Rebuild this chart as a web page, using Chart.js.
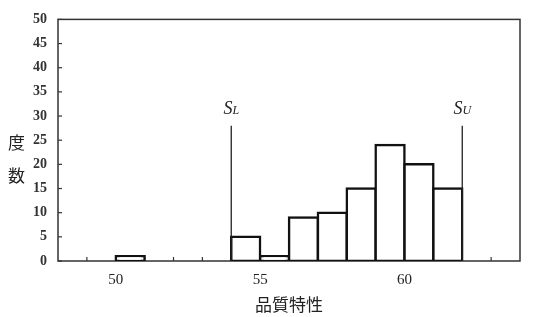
<!DOCTYPE html>
<html><head><meta charset="utf-8">
<script src="https://cdn.jsdelivr.net/npm/chart.js@4"></script>
<style>html,body{margin:0;padding:0;background:#fff}#wrap{width:534px;height:317px}</style>
</head><body><div id="wrap"><canvas id="c"></canvas></div>
<script>
// Data
const binStarts = [48,49,50,51,52,53,54,55,56,57,58,59,60,61,62,63];
const counts    = [null,null,1,null,null,null,5,1,9,10,15,24,20,15,null,null];
const xLabelsShown = [50,55,60];
const specLower = 54, specUpper = 62, specTop = 28;
const specLabels = [['S','L'],['S','U']];
const yTitle = ['度','数'];
const xTitle = '品質特性';

const deco = {
  id:'deco',
  beforeDatasetsDraw(chart){
    const {ctx, chartArea:a, scales:{x,y}} = chart;
    ctx.save();
    ctx.strokeStyle='#333'; ctx.lineWidth=1.5;
    ctx.strokeRect(a.left, a.top, a.right-a.left, a.bottom-a.top);
    ctx.lineWidth=1.2;
    y.ticks.forEach(t=>{const py=y.getPixelForValue(t.value);ctx.beginPath();ctx.moveTo(a.left,py);ctx.lineTo(a.left+4,py);ctx.stroke();});
    x.ticks.forEach(t=>{if(t.value<=x.min||t.value>=x.max)return;const px=x.getPixelForValue(t.value);ctx.beginPath();ctx.moveTo(px,a.bottom);ctx.lineTo(px,a.bottom-4);ctx.stroke();});
    ctx.fillStyle='#222';
    ctx.font='17px "Noto Sans CJK JP"';
    ctx.textAlign='center'; ctx.textBaseline='middle';
    ctx.fillText(yTitle[0], 16.5, y.getPixelForValue(24.6));
    ctx.fillText(yTitle[1], 16.5, y.getPixelForValue(17.7));
    ctx.restore();
  },
  afterDatasetsDraw(chart){
    const {ctx, scales:{x,y}} = chart;
    ctx.save();
    ctx.strokeStyle='#222'; ctx.lineWidth=1.3;
    [specLower,specUpper].forEach((v,i)=>{
      const px=x.getPixelForValue(v);
      ctx.beginPath();ctx.moveTo(px,y.getPixelForValue(specTop));ctx.lineTo(px,y.getPixelForValue(0));ctx.stroke();
      const [m,s]=specLabels[i];
      ctx.fillStyle='#222';ctx.textBaseline='alphabetic';ctx.textAlign='left';
      ctx.font='italic 18px "Liberation Serif"';
      const w1=ctx.measureText(m).width;
      ctx.font='italic 12px "Liberation Serif"';
      const w2=ctx.measureText(s).width;
      const x0=px-(w1+w2)/2;
      const by=y.getPixelForValue(specTop)-12;
      ctx.font='italic 18px "Liberation Serif"';ctx.fillText(m,x0,by);
      ctx.font='italic 12px "Liberation Serif"';ctx.fillText(s,x0+w1,by);
    });
    ctx.restore();
  }
};

new Chart(document.getElementById('c'),{
  type:'bar',
  data:{labels:binStarts.map(String),datasets:[{
    data:counts, xAxisID:'xb', yAxisID:'y',
    backgroundColor:'#fff', borderColor:'#111', borderWidth:2.5,
    borderSkipped:false, inflateAmount:1.25,
    barPercentage:1, categoryPercentage:1
  }]},
  options:{
    responsive:true, maintainAspectRatio:false, animation:false,
    layout:{padding:{top:16,right:14,left:0,bottom:0}},
    plugins:{legend:{display:false},tooltip:{enabled:false}},
    scales:{
      xb:{type:'category',display:false,offset:true},
      x:{type:'linear',position:'bottom',min:48,max:64,offset:false,
        grid:{display:false,drawTicks:false,offset:false},border:{display:false},
        ticks:{stepSize:1,autoSkip:false,maxRotation:0,padding:10,color:'#222',
          font:{family:'Liberation Serif',size:15},
          callback:v=>xLabelsShown.includes(v)?String(v):''},
        title:{display:true,text:xTitle,color:'#222',font:{family:'Noto Sans CJK JP',size:17},padding:{top:0,bottom:2}},
        afterFit:s=>{s.height=56;}
      },
      y:{min:0,max:50,
        grid:{display:false,drawTicks:false},border:{display:false},
        ticks:{stepSize:5,padding:11,color:'#333',font:{family:'Liberation Serif',size:14,weight:'bold'}},
        afterFit:s=>{s.width=58;}
      }
    }
  },
  plugins:[deco]
});
</script></body></html>
